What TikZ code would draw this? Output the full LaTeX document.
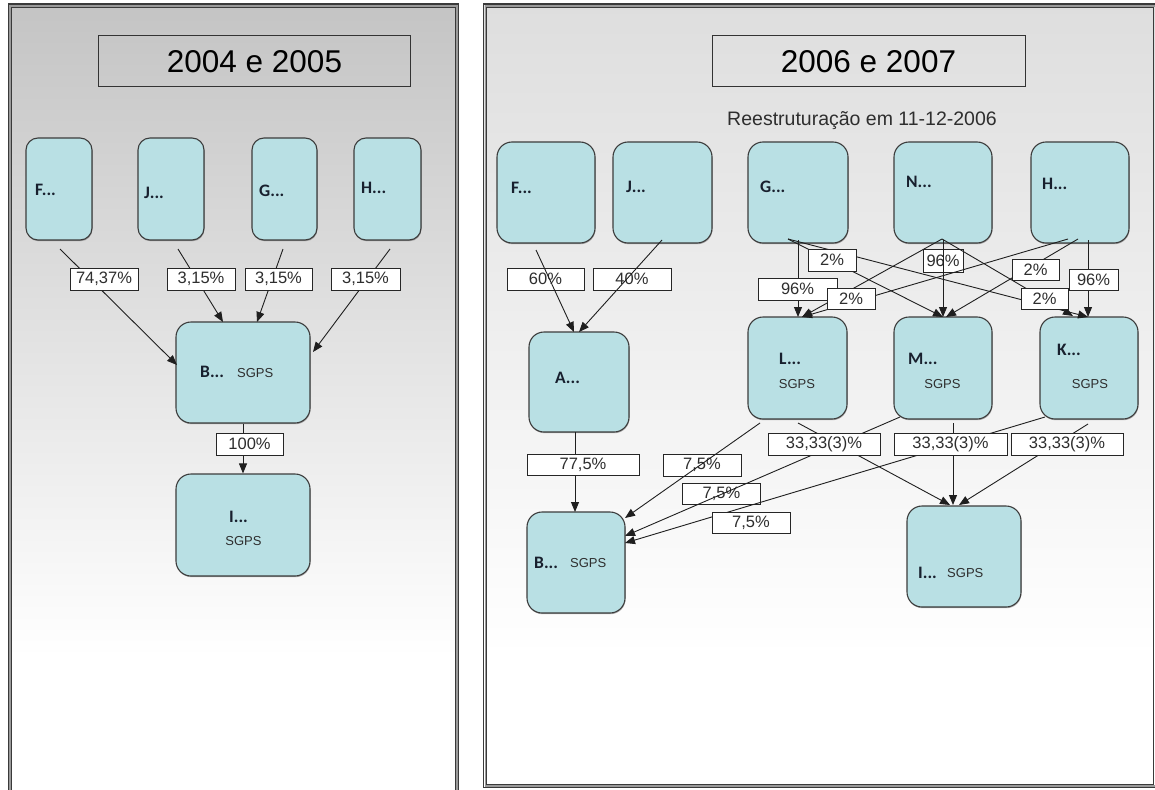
\documentclass[tikz,border=0pt]{standalone}
\usepackage{fontspec}
\setmainfont{Liberation Sans}
\newfontfamily\namefont{Carlito}
\usetikzlibrary{arrows.meta,shadows}
\definecolor{boxfill}{HTML}{B9E0E4}
\definecolor{boxline}{HTML}{3C3C3C}
\definecolor{leftbg}{HTML}{C4C4C4}
\definecolor{rightbg}{HTML}{DEDEDE}
\definecolor{framegray}{HTML}{9A9A9A}
\definecolor{framedark}{HTML}{3A3A3A}
\definecolor{inktext}{HTML}{2E2E2E}
\definecolor{namecol}{HTML}{18202E}
% panel backgrounds: grey at the top, fading to white well before the bottom
% (the filled path spans 25bp..75bp of the shading)
\pgfdeclareverticalshading{leftpanel}{100bp}{color(0bp)=(white); color(34bp)=(white); color(75bp)=(leftbg); color(100bp)=(leftbg)}
\pgfdeclareverticalshading{rightpanel}{100bp}{color(0bp)=(white); color(34bp)=(white); color(75bp)=(rightbg); color(100bp)=(rightbg)}

\begin{document}
\begin{tikzpicture}[x=1pt,y=-1pt,
  entity/.style={draw=boxline,line width=1.1pt,fill=boxfill,rounded corners=12pt,inner sep=0pt,
    drop shadow={shadow xshift=0.5pt,shadow yshift=-1.2pt,opacity=0.3,fill=black}},
  nm/.style={anchor=base west,inner sep=0pt,text=namecol,font=\namefont\bfseries\fontsize{17.5}{20}\selectfont},
  sg/.style={anchor=base,inner sep=0pt,text=inktext,font=\fontsize{13}{15}\selectfont},
  pct/.style={draw=black!85,line width=0.9pt,fill=white,inner sep=0pt,minimum height=22pt,
    text=inktext,font=\fontsize{16.5}{18}\selectfont},
  conn/.style={draw=black!88,line width=0.9pt,-{Triangle[length=10pt,width=8pt]}},
  ttl/.style={draw=black!80,line width=1pt,inner sep=0pt,minimum width=312pt,minimum height=51pt,
    font=\fontsize{31.5}{36}\selectfont},
  sub/.style={anchor=base,inner sep=0pt,text=inktext,font=\fontsize{19.5}{22}\selectfont}
]
\useasboundingbox (0,0) rectangle (1155,789);
\fill[white] (0,0) rectangle (1155,789);

% ---------- panel backgrounds and double frames ----------
\shade[shading=leftpanel] (8.5,4) rectangle (458.7,800);
\draw[framedark,line width=1.3pt] (8.5,800) |- (458.7,4) -- (458.7,800);
\draw[framegray,line width=1.8pt] (10,800) |- (457.1,5.7) -- (457.1,800);
\draw[framedark,line width=1pt] (11.5,800) |- (455.6,7.3) -- (455.6,800);

\shade[shading=rightpanel] (483.8,4) rectangle (1157,800);
\draw[framedark,line width=1.3pt] (483.8,4) rectangle (1157.5,787.8);
\draw[framegray,line width=1.8pt] (485.4,5.7) rectangle (1155.6,786.2);
\draw[framedark,line width=1pt] (486.9,7.3) rectangle (1153.6,784.7);

% ---------- titles ----------
\node[ttl] (ltitle) at (254.5,61.5) {2004 e 2005};
\node[ttl,minimum width=313pt] (rtitle) at (868.5,61.5) {2006 e 2007};
\node[sub] (rsub) at (862,125) {Reestruturação em 11-12-2006};

% ---------- 2004 e 2005 ----------
\node[entity,minimum width=66pt,minimum height=102pt] (lF) at (59,189) {};
\node[entity,minimum width=66pt,minimum height=102pt] (lJ) at (171,189) {};
\node[entity,minimum width=65pt,minimum height=102pt] (lG) at (284.5,189) {};
\node[entity,minimum width=67pt,minimum height=102pt] (lH) at (387.5,189) {};
\node[entity,minimum width=134pt,minimum height=101pt,rounded corners=15pt] (lB) at (243,372.5) {};
\node[entity,minimum width=134pt,minimum height=102pt,rounded corners=15pt] (lI) at (243,525) {};

\node[nm] (lF-t) at (35,195) {F...};
\node[nm] (lJ-t) at (144,198) {J...};
\node[nm] (lG-t) at (259,196) {G...};
\node[nm] (lH-t) at (361,193) {H...};
\node[nm] (lB-t) at (200,377) {B...};
\node[sg,anchor=base west] (lB-s) at (237,377) {SGPS};
\node[nm] (lI-t) at (229,522) {I...};
\node[sg] (lI-s) at (243.5,545) {SGPS};

\coordinate (lF-o) at (60,249);   \coordinate (lB-i1) at (177,365);
\coordinate (lJ-o) at (178,249);  \coordinate (lB-i2) at (223,322);
\coordinate (lG-o) at (283,249);  \coordinate (lB-i3) at (257,322);
\coordinate (lH-o) at (390,249);  \coordinate (lB-i4) at (313,352);

\draw[conn] (lF-o) -- (lB-i1);
\draw[conn] (lJ-o) -- (lB-i2);
\draw[conn] (lG-o) -- (lB-i3);
\draw[conn] (lH-o) -- (lB-i4);
\draw[conn] (lB.south) -- (lI.north);

\node[pct,minimum width=68pt] (lp1) at (104,279) {74,37\%};
\node[pct,minimum width=68pt] (lp2) at (201,279) {3,15\%};
\node[pct,minimum width=67pt] (lp3) at (278.5,279) {3,15\%};
\node[pct,minimum width=69pt] (lp4) at (365.5,279) {3,15\%};
\node[pct,minimum width=67pt] (lp5) at (249.5,444) {100\%};

% ---------- 2006 e 2007 ----------
\node[entity,minimum width=98pt,minimum height=101pt,rounded corners=15pt] (rF) at (546,192.5) {};
\node[entity,minimum width=99pt,minimum height=101pt,rounded corners=15pt] (rJ) at (662.5,192.5) {};
\node[entity,minimum width=100pt,minimum height=101pt,rounded corners=15pt] (rG) at (798,192.5) {};
\node[entity,minimum width=98pt,minimum height=101pt,rounded corners=15pt] (rN) at (943,192.5) {};
\node[entity,minimum width=98pt,minimum height=101pt,rounded corners=15pt] (rH) at (1080,192.5) {};
\node[entity,minimum width=100pt,minimum height=100pt,rounded corners=15pt] (rA) at (579,382) {};
\node[entity,minimum width=99pt,minimum height=102pt,rounded corners=15pt] (rL) at (797.5,368) {};
\node[entity,minimum width=98pt,minimum height=102pt,rounded corners=15pt] (rM) at (943,368) {};
\node[entity,minimum width=98pt,minimum height=102pt,rounded corners=15pt] (rK) at (1089,368) {};
\node[entity,minimum width=98pt,minimum height=101pt,rounded corners=15pt] (rB) at (576,562.5) {};
\node[entity,minimum width=114pt,minimum height=101pt,rounded corners=15pt] (rI) at (964,556.5) {};

\node[nm] (rF-t) at (511,193) {F...};
\node[nm] (rJ-t) at (626,192) {J...};
\node[nm] (rG-t) at (760,192) {G...};
\node[nm] (rN-t) at (906,187) {N...};
\node[nm] (rH-t) at (1042,189) {H...};
\node[nm] (rA-t) at (555,383) {A...};
\node[nm] (rL-t) at (779,364) {L...};
\node[sg] (rL-s) at (797,388) {SGPS};
\node[nm] (rM-t) at (908,364) {M...};
\node[sg] (rM-s) at (942.5,388) {SGPS};
\node[nm] (rK-t) at (1057,355) {K...};
\node[sg] (rK-s) at (1090,388) {SGPS};
\node[nm] (rB-t) at (534,568) {B...};
\node[sg,anchor=base west] (rB-s) at (570,567) {SGPS};
\node[nm] (rI-t) at (918,578) {I...};
\node[sg,anchor=base west] (rI-s) at (947,577) {SGPS};

% labels lying under their connectors
\node[pct,minimum width=77pt] (rp60) at (545.5,279) {60\%};
\node[pct,minimum width=78pt] (rp40) at (632,279) {40\%};
\node[pct,minimum width=40pt,minimum height=23pt] (rpN) at (943,260.5) {96\%};
\node[pct,minimum width=78pt] (rq1) at (702,465) {7,5\%};
\node[pct,minimum width=78pt,minimum height=21pt] (rq2) at (721.5,493.5) {7,5\%};

% connector end points
\coordinate (rF-o) at (536,250);   \coordinate (rA-i1) at (574,332);
\coordinate (rJ-o) at (662,240);   \coordinate (rA-i2) at (579,332);
\coordinate (rA-o) at (575,432);   \coordinate (rB-i0) at (575,512);
\coordinate (rG-o1) at (798,240);  \coordinate (rG-o2) at (788,239);
\coordinate (rN-o1) at (943,240);  \coordinate (rN-o2) at (942,239);
\coordinate (rH-o1) at (1088,240); \coordinate (rH-o2) at (1068,239);
\coordinate (rH-o3) at (1078,239);
\coordinate (rL-i1) at (798,317);  \coordinate (rL-i2) at (802,317);
\coordinate (rM-i1) at (943,317);  \coordinate (rM-i2) at (946,317);
\coordinate (rK-i1) at (1073,316); \coordinate (rK-i2) at (1088,317);
\coordinate (rL-o1) at (760,423);  \coordinate (rL-o2) at (798,423);
\coordinate (rM-o1) at (900,417);  \coordinate (rM-o2) at (953,423);
\coordinate (rK-o1) at (1045,417); \coordinate (rK-o2) at (1088,424);
\coordinate (rB-i1) at (625,518);  \coordinate (rB-i2) at (625,536);
\coordinate (rB-i3) at (625,543);
\coordinate (rI-i1) at (950,505);  \coordinate (rI-i2) at (953,505);
\coordinate (rI-i3) at (959,505);

\draw[conn] (rF-o) -- (rA-i1);
\draw[conn] (rJ-o) -- (rA-i2);
\draw[conn] (rA-o) -- (rB-i0);

\draw[conn] (rG-o1) -- (rL-i1);
\draw[conn] (rG-o2) -- (rM-i1);
\draw[conn] (rG-o2) -- (rK-i2);
\draw[conn] (rN-o1) -- (rM-i1);
\draw[conn] (rN-o2) -- (rL-i2);
\draw[conn] (rN-o2) -- (rK-i1);
\draw[conn] (rH-o1) -- (rK-i2);
\draw[conn] (rH-o2) -- (rL-i2);
\draw[conn] (rH-o3) -- (rM-i2);

\draw[conn] (rL-o1) -- (rB-i1);
\draw[conn] (rM-o1) -- (rB-i2);
\draw[conn] (rK-o1) -- (rB-i3);
\draw[conn] (rL-o2) -- (rI-i1);
\draw[conn] (rM-o2) -- (rI-i2);
\draw[conn] (rK-o2) -- (rI-i3);

% labels covering their connectors
\node[pct,minimum width=79pt] (rpG) at (797.5,289) {96\%};
\node[pct,minimum width=48pt] (rp2a) at (832,260) {2\%};
\node[pct,minimum width=47pt,minimum height=21pt] (rp2b) at (1035.5,269.5) {2\%};
\node[pct,minimum width=49pt,minimum height=21pt] (rpH) at (1093.5,279.5) {96\%};
\node[pct,minimum width=48pt,minimum height=21pt] (rp2c) at (851,298.5) {2\%};
\node[pct,minimum width=47pt,minimum height=21pt] (rp2d) at (1044.5,298.5) {2\%};
\node[pct,minimum width=112pt,minimum height=21pt] (rp77) at (583,464.5) {77,5\%};
\node[pct,minimum width=78pt,minimum height=21pt] (rq3) at (751,522.5) {7,5\%};
\node[pct,minimum width=112pt] (rt1) at (824,444) {33,33(3)\%};
\node[pct,minimum width=113pt] (rt2) at (950.5,444) {33,33(3)\%};
\node[pct,minimum width=112pt] (rt3) at (1067,444) {33,33(3)\%};
\end{tikzpicture}
\end{document}
